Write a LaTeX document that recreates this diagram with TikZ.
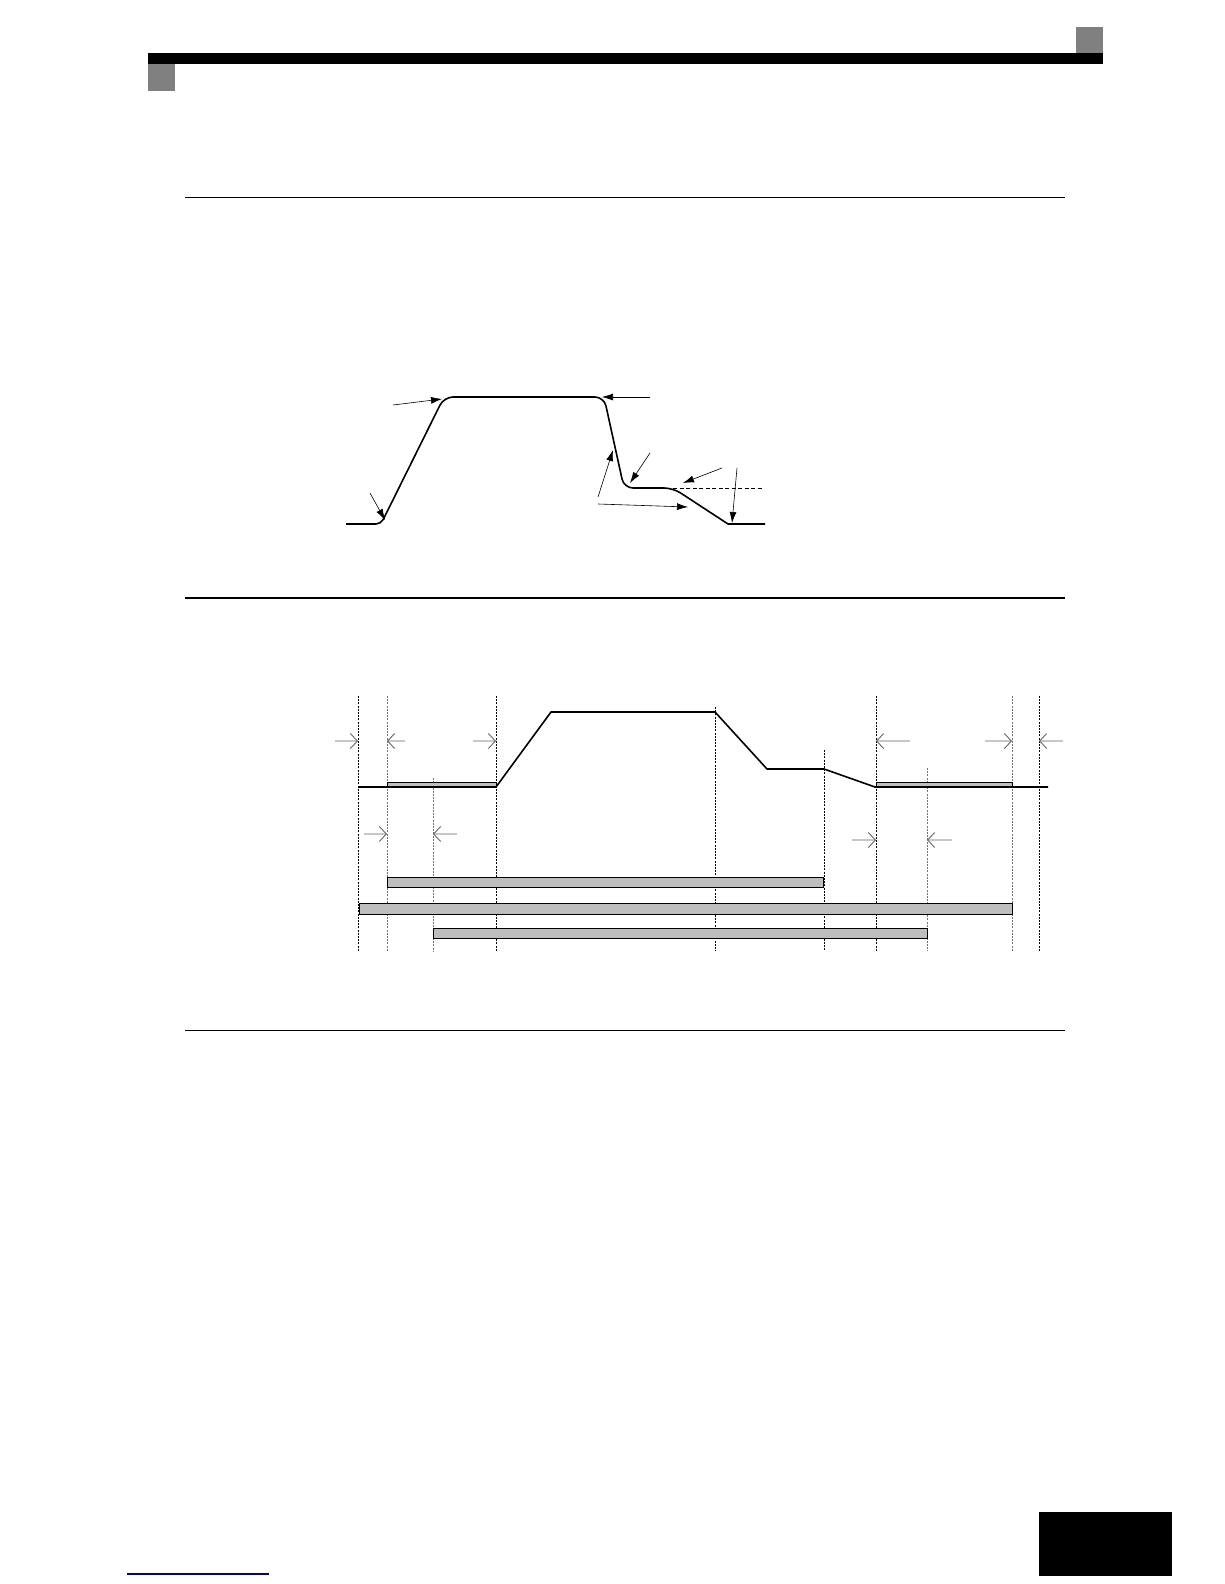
\documentclass[tikz,border=0pt]{standalone}
\usetikzlibrary{arrows.meta}
\definecolor{hdrgray}{RGB}{128,128,128}
\definecolor{barfill}{RGB}{190,190,190}
\definecolor{linkblue}{RGB}{0,0,150}
\tikzset{
  rule/.style={line width=1.3pt},
  curve/.style={line width=1.6pt, line join=round},
  pointer/.style={line width=0.6pt, -{Latex[length=11pt,width=7pt]}},
  vdash/.style={line width=0.8pt, dash pattern=on 2pt off 1.2pt},
  vdashg/.style={vdash, draw=black!55},
  garrow/.style={line width=1.2pt, draw=black!22, -{Straight Barb[length=7pt,width=15pt,line width=0.9pt,color=black!60]}},
  gbar/.style={fill=barfill, draw=black, line width=0.8pt},
}
\begin{document}
\begin{tikzpicture}[x=1pt,y=-1pt]
\useasboundingbox (0,0) rectangle (1224,1584);
% header
\fill[black] (148,53) rectangle (1103,63.7);
\fill[hdrgray] (148,63.7) rectangle (175,91);
\fill[hdrgray] (1076,26.7) rectangle (1103,53);
% rules
\draw[rule] (185,197.3) -- (1065,197.3);
\draw[rule] (185,598) -- (1065,598);
\draw[rule] (185,1030.3) -- (1065,1030.3);

% ---- diagram 1 ----
\draw[curve] (346,524) [rounded corners=5pt] -- (381,524) [rounded corners=9pt] -- (444,397) -- (604,397) -- (624,488) -- (673,488) [sharp corners] -- (728,524) -- (765,524);
\draw[line width=0.8pt, dash pattern=on 4pt off 2.5pt] (673,488) -- (763,488);
\coordinate (a1s) at (393,405); \coordinate (a1t) at (442,399);
\coordinate (a2s) at (650,397); \coordinate (a2t) at (602,397);
\coordinate (a3s) at (370,493); \coordinate (a3t) at (385,520);
\coordinate (a4s) at (598,497); \coordinate (a4t) at (613,450);
\coordinate (a5s) at (650,453); \coordinate (a5t) at (630,483);
\coordinate (a6s) at (722,468); \coordinate (a6t) at (683,483);
\coordinate (a7s) at (598,504); \coordinate (a7t) at (688,507);
\coordinate (a8s) at (737,468); \coordinate (a8t) at (732,523);
\foreach \i in {1,...,8} \draw[pointer] (a\i s) -- (a\i t);

% ---- diagram 2 ----
\foreach \x/\t in {358/696,496/696,715/707,824/750,876/696,1039/696}
  \draw[vdash] (\x,\t) -- (\x,951);
\foreach \x/\t in {387/696,433/778,927/768,1012/696}
  \draw[vdashg] (\x,\t) -- (\x,951);
\draw[gbar] (387,782) rectangle (496,787);
\draw[gbar] (876,782) rectangle (1012,787);
\draw[curve] (358,787) -- (496,787) -- (551,712) -- (715,712) -- (767,769) -- (824,769) -- (875,787) -- (1048,787);
\draw[gbar] (387,877) rectangle (823,887);
\draw[gbar] (359,903) rectangle (1012,914);
\draw[gbar] (433,928) rectangle (927,938);
% gray arrows
\foreach \s/\e/\y in {335/358/741,405/387/741,473/496/741,910/876/741,985/1012/741,1063/1039/741,364/387/834,457/433/834,852/876/840,952/927/840}
  \draw[garrow] (\s,\y) -- (\e,\y);

% footer
\fill[black] (1039,1512) rectangle (1172,1576);
\draw[linkblue, line width=1.3pt] (127,1574) -- (269,1574);
\end{tikzpicture}
\end{document}
